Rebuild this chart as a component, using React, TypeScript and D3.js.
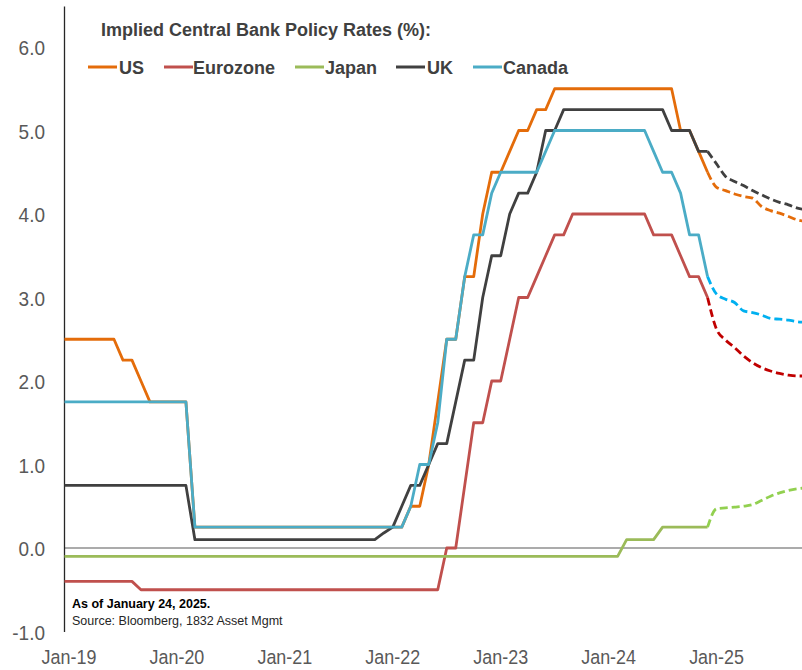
import React from "react";
import * as d3 from "d3";

// Month-end policy rates, Dec-18 through Dec-24 (73 monthly values each)
const usRates = [
  2.5,
  2.5, 2.5, 2.5, 2.5, 2.5, 2.5, 2.25, 2.25, 2.0, 1.75, 1.75, 1.75,
  1.75, 1.75, 0.25, 0.25, 0.25, 0.25, 0.25, 0.25, 0.25, 0.25, 0.25, 0.25,
  0.25, 0.25, 0.25, 0.25, 0.25, 0.25, 0.25, 0.25, 0.25, 0.25, 0.25, 0.25,
  0.25, 0.25, 0.5, 0.5, 1.0, 1.75, 2.5, 2.5, 3.25, 3.25, 4.0, 4.5,
  4.5, 4.75, 5.0, 5.0, 5.25, 5.25, 5.5, 5.5, 5.5, 5.5, 5.5, 5.5,
  5.5, 5.5, 5.5, 5.5, 5.5, 5.5, 5.5, 5.5, 5.0, 5.0, 4.75, 4.5,
];
const eurozoneRates = [
  -0.4,
  -0.4, -0.4, -0.4, -0.4, -0.4, -0.4, -0.4, -0.4, -0.5, -0.5, -0.5, -0.5,
  -0.5, -0.5, -0.5, -0.5, -0.5, -0.5, -0.5, -0.5, -0.5, -0.5, -0.5, -0.5,
  -0.5, -0.5, -0.5, -0.5, -0.5, -0.5, -0.5, -0.5, -0.5, -0.5, -0.5, -0.5,
  -0.5, -0.5, -0.5, -0.5, -0.5, -0.5, 0.0, 0.0, 0.75, 1.5, 1.5, 2.0,
  2.0, 2.5, 3.0, 3.0, 3.25, 3.5, 3.75, 3.75, 4.0, 4.0, 4.0, 4.0,
  4.0, 4.0, 4.0, 4.0, 4.0, 3.75, 3.75, 3.75, 3.5, 3.25, 3.25, 3.0,
];
const japanRates = [
  -0.1,
  -0.1, -0.1, -0.1, -0.1, -0.1, -0.1, -0.1, -0.1, -0.1, -0.1, -0.1, -0.1,
  -0.1, -0.1, -0.1, -0.1, -0.1, -0.1, -0.1, -0.1, -0.1, -0.1, -0.1, -0.1,
  -0.1, -0.1, -0.1, -0.1, -0.1, -0.1, -0.1, -0.1, -0.1, -0.1, -0.1, -0.1,
  -0.1, -0.1, -0.1, -0.1, -0.1, -0.1, -0.1, -0.1, -0.1, -0.1, -0.1, -0.1,
  -0.1, -0.1, -0.1, -0.1, -0.1, -0.1, -0.1, -0.1, -0.1, -0.1, -0.1, -0.1,
  -0.1, -0.1, 0.1, 0.1, 0.1, 0.1, 0.25, 0.25, 0.25, 0.25, 0.25, 0.25,
];
const ukRates = [
  0.75,
  0.75, 0.75, 0.75, 0.75, 0.75, 0.75, 0.75, 0.75, 0.75, 0.75, 0.75, 0.75,
  0.75, 0.75, 0.1, 0.1, 0.1, 0.1, 0.1, 0.1, 0.1, 0.1, 0.1, 0.1,
  0.1, 0.1, 0.1, 0.1, 0.1, 0.1, 0.1, 0.1, 0.1, 0.1, 0.1, 0.18,
  0.25, 0.5, 0.75, 0.75, 1.0, 1.25, 1.25, 1.75, 2.25, 2.25, 3.0, 3.5,
  3.5, 4.0, 4.25, 4.25, 4.5, 5.0, 5.0, 5.25, 5.25, 5.25, 5.25, 5.25,
  5.25, 5.25, 5.25, 5.25, 5.25, 5.25, 5.25, 5.0, 5.0, 5.0, 4.75, 4.75,
];
const canadaRates = [
  1.75,
  1.75, 1.75, 1.75, 1.75, 1.75, 1.75, 1.75, 1.75, 1.75, 1.75, 1.75, 1.75,
  1.75, 1.75, 0.25, 0.25, 0.25, 0.25, 0.25, 0.25, 0.25, 0.25, 0.25, 0.25,
  0.25, 0.25, 0.25, 0.25, 0.25, 0.25, 0.25, 0.25, 0.25, 0.25, 0.25, 0.25,
  0.25, 0.25, 0.5, 1.0, 1.0, 1.5, 2.5, 2.5, 3.25, 3.75, 3.75, 4.25,
  4.5, 4.5, 4.5, 4.5, 4.5, 4.75, 5.0, 5.0, 5.0, 5.0, 5.0, 5.0,
  5.0, 5.0, 5.0, 5.0, 5.0, 4.75, 4.5, 4.5, 4.25, 3.75, 3.75, 3.25,
];

// Market-implied path, Dec-24 through Nov-25 (12 monthly values each)
const usImplied = [4.5, 4.32, 4.28, 4.24, 4.21, 4.19, 4.09, 4.04, 4.01, 3.97, 3.93, 3.91];
const eurozoneImplied = [3.0, 2.62, 2.49, 2.4, 2.3, 2.22, 2.16, 2.12, 2.09, 2.07, 2.06, 2.06];
const japanImplied = [0.25, 0.47, 0.48, 0.49, 0.5, 0.52, 0.57, 0.62, 0.66, 0.69, 0.71, 0.72];
const ukImplied = [4.75, 4.6, 4.45, 4.39, 4.34, 4.28, 4.23, 4.18, 4.14, 4.11, 4.07, 4.05];
const canadaImplied = [3.25, 3.04, 2.98, 2.94, 2.84, 2.82, 2.79, 2.75, 2.74, 2.73, 2.71, 2.7];

// Month index of the first value in each array (0 = Jan-19)
const historyStart = -1;
const impliedStart = 71;

const seriesNames = ["US", "Eurozone", "Japan", "UK", "Canada"];
const historyColors = ["#e46c0a", "#c0504d", "#9bbb59", "#404040", "#4bacc6"];
const impliedColors = ["#e46c0a", "#c00000", "#92d050", "#404040", "#00b0f0"];
const historyData = [usRates, eurozoneRates, japanRates, ukRates, canadaRates];
const impliedData = [usImplied, eurozoneImplied, japanImplied, ukImplied, canadaImplied];

const yTicks = [-1, 0, 1, 2, 3, 4, 5, 6];
const xTickLabels = ["Jan-19", "Jan-20", "Jan-21", "Jan-22", "Jan-23", "Jan-24", "Jan-25"];

const W = 802;
const H = 670;
const plotLeft = 64.5;
const plotRight = 802;
const FONT = "'Liberation Sans', Arial, sans-serif";

export default function App() {
  const x = d3.scaleLinear().domain([-0.5, 81.5]).range([plotLeft, plotRight]);
  const y = d3.scaleLinear().domain([-1, 6.5]).range([631.5, 5.25]);

  const solidLine = (start: number) =>
    d3
      .line<number>()
      .x((_, i) => x(start + i))
      .y((v) => y(v));
  const dashedLine = (start: number) =>
    d3
      .line<number>()
      .x((_, i) => x(start + i))
      .y((v) => y(v))
      .curve(d3.curveMonotoneX);

  // legend item positions (line start, text start)
  const legendItems = [
    { lx: 88, tx: 119 },
    { lx: 164, tx: 193 },
    { lx: 295, tx: 325 },
    { lx: 396, tx: 427 },
    { lx: 473, tx: 503 },
  ];

  return (
    <svg
      width={W}
      height={H}
      viewBox={`0 0 ${W} ${H}`}
      style={{ position: "absolute", left: 0, top: 0, background: "#fff" }}
      fontFamily={FONT}
    >
      <defs>
        <clipPath id="plot-clip">
          <rect x={plotLeft} y={0} width={plotRight - plotLeft + 2} height={H} />
        </clipPath>
      </defs>

      {/* zero line */}
      <line x1={plotLeft} x2={plotRight} y1={y(0)} y2={y(0)} stroke="#595959" strokeWidth={1.2} />

      {/* y axis */}
      <line x1={plotLeft} x2={plotLeft} y1={6.5} y2={632} stroke="#262626" strokeWidth={1.3} />
      {yTicks.map((t) => (
        <text
          key={t}
          transform={`translate(45,${y(t) + 1}) scale(0.95,1)`}
          textAnchor="end"
          dominantBaseline="central"
          fontSize={20}
          fill="#595959"
        >
          {t.toFixed(1)}
        </text>
      ))}

      {/* x tick labels */}
      {xTickLabels.map((lab, i) => (
        <text
          key={lab}
          transform={`translate(${x(i * 12)},657) scale(0.92,1)`}
          textAnchor="middle"
          dominantBaseline="central"
          fontSize={19.5}
          fill="#595959"
        >
          {lab}
        </text>
      ))}

      <g clipPath="url(#plot-clip)">
        {historyData.map((d, i) => (
          <path
            key={"h" + i}
            d={solidLine(historyStart)(d) || ""}
            fill="none"
            stroke={historyColors[i]}
            strokeWidth={2.8}
            strokeLinejoin="round"
          />
        ))}
        {impliedData.map((d, i) => (
          <path
            key={"f" + i}
            d={dashedLine(impliedStart)(d) || ""}
            fill="none"
            stroke={impliedColors[i]}
            strokeWidth={2.8}
            strokeDasharray="8 4"
          />
        ))}
      </g>

      {/* title and legend */}
      <text x={101} y={36} fontSize={18} fontWeight="bold" fill="#404040">
        Implied Central Bank Policy Rates (%):
      </text>
      {seriesNames.map((name, i) => (
        <g key={name}>
          <line
            x1={legendItems[i].lx}
            x2={legendItems[i].lx + 29}
            y1={67}
            y2={67}
            stroke={historyColors[i]}
            strokeWidth={3}
          />
          <text x={legendItems[i].tx} y={74} fontSize={18} fontWeight="bold" fill="#404040">
            {name}
          </text>
        </g>
      ))}

      {/* notes */}
      <text x={72} y={608} fontSize={12.5} fontWeight="bold" fill="#000">
        As of January 24, 2025.
      </text>
      <text x={72} y={625} fontSize={12.5} fill="#262626">
        Source: Bloomberg, 1832 Asset Mgmt
      </text>
    </svg>
  );
}
